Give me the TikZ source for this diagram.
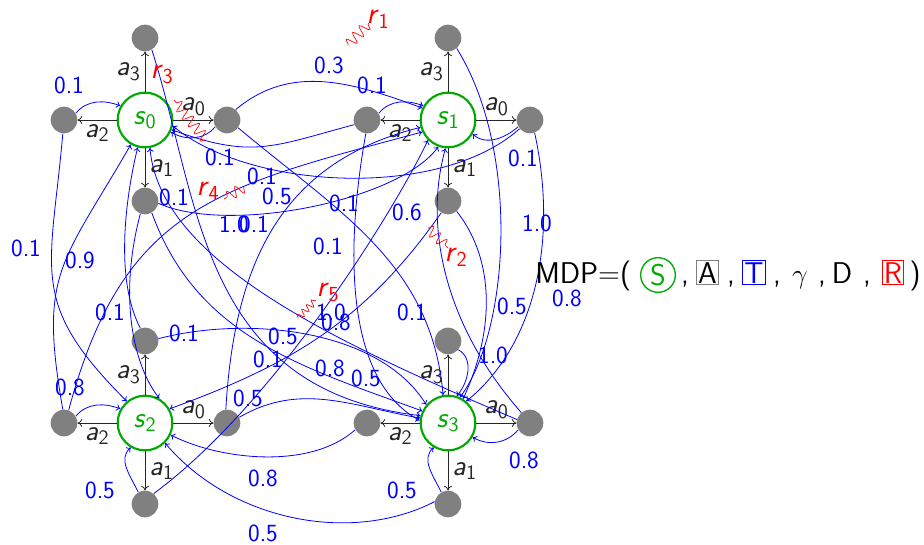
\documentclass[tikz,border=0pt]{standalone}
\usetikzlibrary{arrows.meta,decorations.pathmorphing}
\definecolor{sgreen}{RGB}{0,170,0}
\definecolor{sgray}{RGB}{128,128,128}
\newcommand{\ms}[2]{\textsl{#1}\textsubscript{\upshape #2}}
\begin{document}
\begin{tikzpicture}[x=0.75pt,y=0.75pt,
  font=\sffamily,
  st/.style={circle,draw=sgreen,line width=1.6pt,fill=white,minimum size=41pt,inner sep=0pt,text=sgreen,font=\sffamily\fontsize{22}{26}\selectfont},
  sat/.style={circle,fill=sgray,minimum size=20pt,inner sep=0pt},
  act/.style={-{To[length=3.5pt,width=6pt]},black!85,line width=0.6pt},
  alab/.style={font=\sffamily\fontsize{22}{26}\selectfont,inner sep=3pt},
  tr/.style={-{To[length=3pt,width=5pt]},blue,line width=0.6pt},
  pl/.style={text=blue,font=\sffamily\fontsize{18.5}{21}\selectfont,inner sep=0pt},
  rw/.style={red,line width=0.5pt,decorate,decoration={snake,amplitude=4pt,segment length=7pt}},
  rws/.style={red,line width=0.5pt,decorate,decoration={snake,amplitude=2.6pt,segment length=5pt}},
  rl/.style={text=red,font=\sffamily\fontsize{23}{27}\selectfont,inner sep=0pt},
  big/.style={font=\sffamily\fontsize{22.5}{26}\selectfont,inner sep=0pt},
  bx/.style={draw=#1,line width=0.6pt,inner sep=1.3pt,font=\sffamily\fontsize{22.5}{26}\selectfont},
]
\useasboundingbox (0,0) rectangle (924,-545);

% states and action nodes
\node[st] (s0) at (145,-120) {\ms{s}{0}};
\node[st] (s1) at (448,-120) {\ms{s}{1}};
\node[st] (s2) at (145,-423) {\ms{s}{2}};
\node[st] (s3) at (448,-423) {\ms{s}{3}};

\node[sat] (s0a0) at (227,-120) {};
\node[sat] (s0a1) at (145,-201) {};
\node[sat] (s0a2) at (64,-120) {};
\node[sat] (s0a3) at (145,-38) {};
\node[sat] (s1a0) at (530,-120) {};
\node[sat] (s1a1) at (448,-201) {};
\node[sat] (s1a2) at (367,-120) {};
\node[sat] (s1a3) at (448,-38) {};
\node[sat] (s2a0) at (227,-423) {};
\node[sat] (s2a1) at (145,-504) {};
\node[sat] (s2a2) at (64,-423) {};
\node[sat] (s2a3) at (145,-341) {};
\node[sat] (s3a0) at (530,-423) {};
\node[sat] (s3a1) at (448,-504) {};
\node[sat] (s3a2) at (367,-423) {};
\node[sat] (s3a3) at (448,-341) {};

% actions
\draw[act] (s0) -- node[alab,above]{\ms{a}{0}} (s0a0);
\draw[act] (s0) -- node[alab,right]{\ms{a}{1}} (s0a1);
\draw[act] (s0) -- node[alab,below]{\ms{a}{2}} (s0a2);
\draw[act] (s0) -- node[alab,left]{\ms{a}{3}} (s0a3);
\draw[act] (s1) -- node[alab,above]{\ms{a}{0}} (s1a0);
\draw[act] (s1) -- node[alab,right]{\ms{a}{1}} (s1a1);
\draw[act] (s1) -- node[alab,below]{\ms{a}{2}} (s1a2);
\draw[act] (s1) -- node[alab,left]{\ms{a}{3}} (s1a3);
\draw[act] (s2) -- node[alab,above]{\ms{a}{0}} (s2a0);
\draw[act] (s2) -- node[alab,right]{\ms{a}{1}} (s2a1);
\draw[act] (s2) -- node[alab,below]{\ms{a}{2}} (s2a2);
\draw[act] (s2) -- node[alab,left]{\ms{a}{3}} (s2a3);
\draw[act] (s3) -- node[alab,above]{\ms{a}{0}} (s3a0);
\draw[act] (s3) -- node[alab,right]{\ms{a}{1}} (s3a1);
\draw[act] (s3) -- node[alab,below]{\ms{a}{2}} (s3a2);
\draw[act] (s3) -- node[alab,left]{\ms{a}{3}} (s3a3);

% transitions
\draw[tr] (s0a2.30) to[out=50,in=160] (s0.150);
\draw[tr] (s0a2.-95) to[out=-95,in=135,looseness=1.3] (s2.130);
\draw[tr] (s2a2.95) to[out=100,in=-120,looseness=1.3] (s0.240);
\draw[tr] (s2a2.30) to[out=50,in=160] (s2.150);
\draw[tr] (s2a2.70) to[out=75,in=195,looseness=1.2] (s1.205);
\draw[tr] (s0a0.50) to[out=40,in=160] (s1.155);
\draw[tr] (s1a2.30) to[out=50,in=160] (s1.150);
\draw[tr] (s0a0.-150) to[out=-130,in=-30] (s0.-25);
\draw[tr] (s1a2.-160) to[out=-165,in=-20,looseness=1.2] (s0.-20);
\draw[tr] (s1a0.-140) .. controls (440,-200) and (250,-190) .. (s0.-12);
\draw[tr] (s1a0.-150) to[out=-140,in=-40] (s1.-30);
\draw[tr] (s1a0.-70) .. controls (560,-250) and (530,-350) .. (s3.50);
\draw[tr] (s1a3.-50) .. controls (520,-150) and (510,-330) .. (s3.65);
\draw[tr] (s3a3.-40) to[out=-30,in=50] (s3.72);
\draw[tr] (s1a1.-50) .. controls (495,-260) and (495,-330) .. (s3.58);
\draw[tr] (s1a1.-120) to[out=-125,in=20] (s2.30);
\draw[tr] (s0a0.-35) to[out=-40,in=95] (s3.100);
\draw[tr] (s0a1.-10) .. controls (230,-235) and (400,-200) .. (s1.-110);
\draw[tr] (s0a1.-60) to[out=-70,in=160] (s3.155);
\draw[tr] (s0a1.-110) .. controls (120,-290) and (130,-360) .. (s2.60);
\draw[tr] (s2a3.110) .. controls (115,-280) and (125,-200) .. (s0.-105);
\draw[tr] (s2a0.95) .. controls (235,-250) and (290,-160) .. (s1.195);
\draw[tr] (s2a3.10) .. controls (250,-315) and (380,-330) .. (s3.140);
\draw[tr] (s2a0.25) to[out=30,in=170] (s3.170);
\draw[tr] (s3a2.-150) .. controls (310,-470) and (220,-460) .. (s2.-25);
\draw[tr] (s3a1.170) .. controls (350,-545) and (230,-520) .. (s2.-45);
\draw[tr] (s2a1.120) to[out=115,in=-140] (s2.-120);
\draw[tr] (s2a1.50) .. controls (280,-400) and (400,-200) .. (s1.225);
\draw[tr] (s1a2.-95) .. controls (345,-250) and (345,-380) .. (s3.175);
\draw[tr] (s3a1.120) to[out=115,in=-140] (s3.-120);
\draw[tr] (s3a0.-150) to[out=-130,in=-30] (s3.-30);
\draw[tr] (s3a0.165) .. controls (330,-340) and (160,-260) .. (s0.-80);
\draw[tr] (s3a0.130) .. controls (440,-320) and (425,-220) .. (s1.-95);
\draw[tr] (s0a3.-60) .. controls (200,-200) and (200,-390) .. (s3.165);

% probability labels
\node[pl] (p1) at (69,-85) {0.1};
\node[pl] (p2) at (329,-65) {0.3};
\node[pl] (p3) at (372,-85) {0.1};
\node[pl] (p4) at (220,-157) {0.1};
\node[pl] (p5) at (262,-176) {0.1};
\node[pl] (p6) at (277,-196) {0.5};
\node[pl] (p7) at (174,-197) {0.1};
\node[pl] (p8) at (234,-224) {1.0};
\node[pl] (p9) at (254,-224) {0.1};
\node[pl] (p10) at (344,-203) {0.1};
\node[pl] (p11) at (26,-248) {0.1};
\node[pl] (p12) at (80,-260) {0.9};
\node[pl] (p13) at (328,-246) {0.1};
\node[pl] (p14) at (407,-212) {0.6};
\node[pl] (p15) at (523,-158) {0.1};
\node[pl] (p16) at (537,-223) {1.0};
\node[pl] (p17) at (567,-298) {0.8};
\node[pl] (p18) at (512,-306) {0.5};
\node[pl] (p19) at (412,-312) {0.1};
\node[pl] (p20) at (493,-355) {1.0};
\node[pl] (p21) at (110,-312) {0.1};
\node[pl] (p22) at (184,-333) {0.1};
\node[pl] (p23) at (331,-312) {1.0};
\node[pl] (p24) at (336,-322) {0.8};
\node[pl] (p25) at (283,-336) {0.5};
\node[pl] (p26) at (268,-359) {0.1};
\node[pl] (p27) at (330,-368) {0.8};
\node[pl] (p28) at (366,-378) {0.5};
\node[pl] (p29) at (248,-398) {0.5};
\node[pl] (p30) at (70,-387) {0.8};
\node[pl] (p31) at (524,-460) {0.8};
\node[pl] (p32) at (100,-490) {0.5};
\node[pl] (p33) at (263,-478) {0.8};
\node[pl] (p34) at (402,-490) {0.5};
\node[pl] (p35) at (263,-533) {0.5};

% rewards
\coordinate (r1a) at (348,-45); \coordinate (r1b) at (369,-23);
\coordinate (r2a) at (428,-228); \coordinate (r2b) at (448,-248);
\coordinate (r3a) at (206,-140); \coordinate (r3b) at (174,-100);
\coordinate (r4a) at (244,-187); \coordinate (r4b) at (224,-199);
\coordinate (r5a) at (298,-318); \coordinate (r5b) at (316,-300);
\draw[rw] (r1a) -- (r1b);
\draw[rw] (r2a) -- (r2b);
\draw[rw] (r3a) -- (r3b);
\draw[rw] (r4a) -- (r4b);
\draw[rws] (r5a) -- (r5b);
\node[rl] (r1) at (378,-19) {\ms{r}{1}};
\node[rl] (r2) at (456,-257) {\ms{r}{2}};
\node[rl] (r3) at (162,-74) {\ms{r}{3}};
\node[rl] (r4) at (208,-191) {\ms{r}{4}};
\node[rl] (r5) at (328,-292) {\ms{r}{5}};

% tuple
\node[big,anchor=base west] (mdp) at (535,-283) {MDP=(};
\node[circle,draw=sgreen,line width=1pt,minimum size=26pt,inner sep=0pt,text=sgreen,font=\sffamily\fontsize{22.5}{26}\selectfont] (tS) at (658,-275) {S};
\node[big,anchor=base] (c1) at (685,-283) {,};
\node[bx=sgray,anchor=base] (tA) at (707.5,-283) {A};
\node[big,anchor=base] (c2) at (731,-283) {,};
\node[bx=blue,text=blue,anchor=base] (tT) at (754,-283) {T};
\node[big,anchor=base] (c3) at (777,-283) {,};
\node[big,anchor=base] (tg) at (800,-283) {$\gamma$};
\node[big,anchor=base] (c4) at (822,-283) {,};
\node[big,anchor=base] (tD) at (842,-283) {D};
\node[big,anchor=base] (c5) at (867,-283) {,};
\node[bx=red,text=red,anchor=base] (tR) at (893,-283) {R};
\node[big,anchor=base] (tp) at (915,-283) {)};
\end{tikzpicture}
\end{document}
